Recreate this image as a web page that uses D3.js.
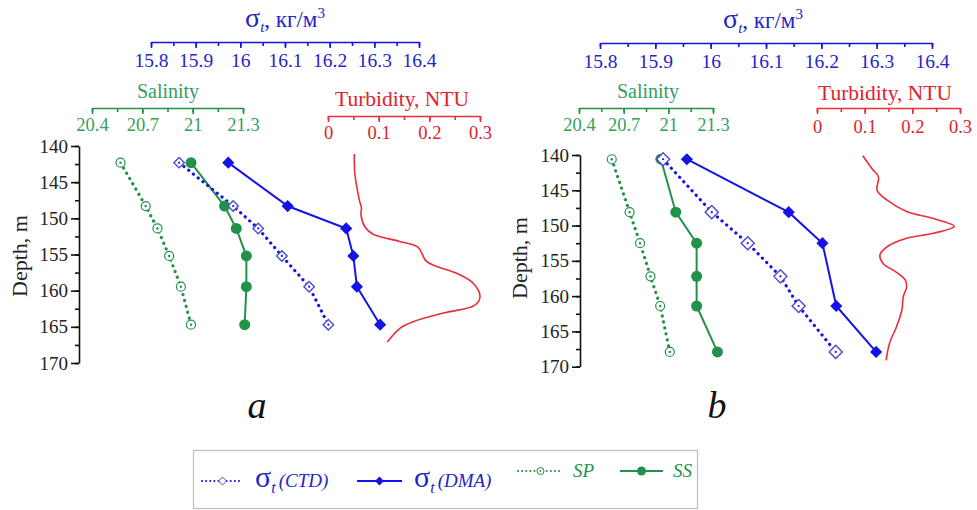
<!DOCTYPE html>
<html>
<head>
<meta charset="utf-8">
<script src="https://cdn.jsdelivr.net/npm/d3@7"></script>
<style>
  body { margin: 0; background: #fff; }
  svg text { font-family: "Liberation Serif", "Times New Roman", serif; }
</style>
</head>
<body>
<svg width="977" height="510"></svg>
<script>
// tick labels
var sigmaTicks = [15.8, 15.9, 16, 16.1, 16.2, 16.3, 16.4];
var salTicks = [20.4, 20.7, 21, 21.3];
var turbTicks = [0, 0.1, 0.2, 0.3];
var depthTicks = [140, 145, 150, 155, 160, 165, 170];

// panel a
var depthA = [142.3, 148.3, 151.4, 155.2, 159.45, 164.7];
var spA = [20.57, 20.72, 20.79, 20.86, 20.93, 20.99];
var ssA = [20.99, 21.19, 21.26, 21.32, 21.32, 21.31];
var ctdA = [15.863, 15.984, 16.04, 16.093, 16.154, 16.197];
var dmaA = [15.973, 16.106, 16.237, 16.253, 16.261, 16.313];
var turbDepthA = [141.1, 143.8, 147.5, 148.6, 149.5, 151.2, 152.2, 153.2, 154.0, 156.0, 157.6, 159.0, 160.8, 162.0, 163.1, 164.3, 165.2, 167.1];
var turbA = [0.052, 0.053, 0.062, 0.066, 0.065, 0.073, 0.089, 0.142, 0.178, 0.195, 0.254, 0.287, 0.300, 0.290, 0.228, 0.168, 0.142, 0.117];

// panel b
var depthB = [140.6, 148.1, 152.5, 157.2, 161.4, 167.9];
var spB = [20.62, 20.74, 20.81, 20.88, 20.945, 21.01];
var ssB = [20.95, 21.05, 21.19, 21.19, 21.19, 21.33];
var ctdB = [15.914, 16.002, 16.067, 16.126, 16.159, 16.226];
var dmaDepthB = [140.6, 148.1, 152.5, 161.4, 167.9];
var dmaB = [15.957, 16.141, 16.202, 16.227, 16.299];
var turbDepthB = [140.1, 141.9, 143.1, 145.0, 146.4, 148.0, 149.0, 150.1, 151.1, 151.8, 153.0, 154.2, 155.4, 156.5, 157.7, 158.7, 160.1, 162.0, 164.3, 166.7, 169.1];
var turbB = [0.096, 0.115, 0.129, 0.126, 0.147, 0.188, 0.244, 0.288, 0.244, 0.188, 0.147, 0.132, 0.139, 0.164, 0.185, 0.188, 0.181, 0.178, 0.167, 0.152, 0.145];

var BLUE = "#1414e6", BLUE_T = "#2525c8", CTD_M = "#4a4ad8";
var GREEN = "#22924a", GREEN_T = "#36a05a";
var RED = "#e8303a", RED_T = "#e0222c";

var svg = d3.select("svg");

function hAxis(g, scale, yPos, major, minorStep, color, textColor, fs, pad) {
  var d = scale.domain();
  var minor = d3.range(d[0], d[1] + minorStep / 2, minorStep);
  var gm = g.append("g").attr("transform", "translate(0," + yPos + ")")
    .call(d3.axisBottom(scale).tickValues(minor).tickSize(4).tickSizeOuter(0).tickFormat(""));
  gm.select(".domain").remove();
  var ga = g.append("g").attr("transform", "translate(0," + yPos + ")")
    .call(d3.axisBottom(scale).tickValues(major).tickSize(6).tickSizeOuter(0).tickPadding(pad)
      .tickFormat(function(v) { return String(v); }));
  g.selectAll("path, line").attr("stroke", color).attr("stroke-width", 1.6);
  ga.selectAll("text").attr("fill", textColor).style("font-size", fs + "px");
  ga.attr("font-family", null);
  gm.attr("font-family", null);
}

function drawPanel(c) {
  var g = svg.append("g");
  var y = d3.scaleLinear().domain([140, 170]).range(c.yr);
  var xs = d3.scaleLinear().domain([15.8, 16.4]).range(c.sig);
  var xl = d3.scaleLinear().domain([20.4, 21.3]).range(c.sal);
  var xt = d3.scaleLinear().domain([0, 0.3]).range(c.tur);

  // depth axis
  var gyMinor = g.append("g").attr("transform", "translate(" + c.ax + ",0)")
    .call(d3.axisLeft(y).tickValues(d3.range(140, 170.1, 2.5)).tickSize(4).tickSizeOuter(0).tickFormat(""));
  gyMinor.select(".domain").remove();
  var gy = g.append("g").attr("transform", "translate(" + c.ax + ",0)")
    .call(d3.axisLeft(y).tickValues(depthTicks).tickSize(8).tickSizeOuter(0).tickPadding(3));
  g.selectAll("path, line").attr("stroke", "#111").attr("stroke-width", 1.6);
  gy.selectAll("text").attr("fill", "#222").style("font-size", "19px");
  gy.attr("font-family", null); gyMinor.attr("font-family", null);

  g.append("text")
    .attr("transform", "translate(" + c.dl[0] + "," + c.dl[1] + ") rotate(-90)")
    .attr("text-anchor", "middle").attr("dy", "0.35em")
    .style("font-size", "22px").attr("fill", "#222").text("Depth, m");

  // top axes
  hAxis(g.append("g"), xs, c.sigY, sigmaTicks, 0.05, BLUE, BLUE_T, 19.5, 5);
  hAxis(g.append("g"), xl, c.salY, salTicks, 0.15, GREEN, GREEN_T, 18.5, 4);
  hAxis(g.append("g"), xt, c.turY, turbTicks, 0.05, RED, RED_T, 18.5, c.turPad);

  var st = g.append("text").attr("x", c.sigT[0]).attr("y", c.sigT[1])
    .attr("text-anchor", "middle").attr("fill", BLUE_T).style("font-size", "23px");
  st.append("tspan").style("font-size", "28px").text("σ");
  st.append("tspan").attr("dy", 5).style("font-style", "italic").style("font-size", "15px").text("t");
  st.append("tspan").attr("dy", -5).text(", кг/м");
  st.append("tspan").attr("dy", -9).style("font-size", "15px").text("3");

  g.append("text").attr("x", c.salT[0]).attr("y", c.salT[1]).attr("text-anchor", "middle")
    .attr("fill", GREEN_T).style("font-size", "20px").text("Salinity");
  g.append("text").attr("x", c.turT[0]).attr("y", c.turT[1]).attr("text-anchor", "middle")
    .attr("fill", RED_T).style("font-size", "21.5px").text("Turbidity, NTU");

  // turbidity curve
  g.append("path")
    .datum(d3.zip(c.turb, c.turbD))
    .attr("fill", "none").attr("stroke", RED).attr("stroke-width", 1.6)
    .attr("d", d3.line().x(function(d) { return xt(d[0]); }).y(function(d) { return y(d[1]); })
      .curve(d3.curveCatmullRom));

  var lineFn = function(sx) {
    return d3.line().x(function(d) { return sx(d[0]); }).y(function(d) { return y(d[1]); });
  };

  // SP dotted
  var sp = d3.zip(c.sp, c.depth);
  g.append("path").datum(sp).attr("fill", "none").attr("stroke", GREEN).attr("stroke-width", 3.2)
    .attr("stroke-dasharray", "0.1,6").attr("stroke-linecap", "round").attr("d", lineFn(xl));
  // SS solid
  var ss = d3.zip(c.ss, c.depth);
  g.append("path").datum(ss).attr("fill", "none").attr("stroke", GREEN).attr("stroke-width", 2)
    .attr("d", lineFn(xl));
  // CTD dotted
  var ctd = d3.zip(c.ctd, c.depth);
  g.append("path").datum(ctd).attr("fill", "none").attr("stroke", BLUE).attr("stroke-width", 3.2)
    .attr("stroke-dasharray", "0.1,6").attr("stroke-linecap", "round").attr("d", lineFn(xs));
  // DMA solid
  var dma = d3.zip(c.dma, c.dmaD);
  g.append("path").datum(dma).attr("fill", "none").attr("stroke", BLUE).attr("stroke-width", 2)
    .attr("d", lineFn(xs));

  // markers
  g.selectAll(".spm").data(sp).enter().append("circle")
    .attr("cx", function(d) { return xl(d[0]); }).attr("cy", function(d) { return y(d[1]); })
    .attr("r", 4.5).attr("fill", "#fff").attr("stroke", GREEN).attr("stroke-width", 1.2);
  g.selectAll(".spd").data(sp).enter().append("circle")
    .attr("cx", function(d) { return xl(d[0]); }).attr("cy", function(d) { return y(d[1]); })
    .attr("r", 1.2).attr("fill", GREEN);
  g.selectAll(".ssm").data(ss).enter().append("circle")
    .attr("cx", function(d) { return xl(d[0]); }).attr("cy", function(d) { return y(d[1]); })
    .attr("r", 5.5).attr("fill", GREEN);
  var dia = d3.symbol().type(d3.symbolDiamond2);
  g.selectAll(".ctdm").data(ctd).enter().append("path")
    .attr("transform", function(d) { return "translate(" + xs(d[0]) + "," + y(d[1]) + ")"; })
    .attr("d", dia.size(c.ctdSize)()).attr("fill", "#fff").attr("stroke", CTD_M).attr("stroke-width", 1.4);
  g.selectAll(".ctdd").data(ctd).enter().append("circle")
    .attr("cx", function(d) { return xs(d[0]); }).attr("cy", function(d) { return y(d[1]); })
    .attr("r", 1.1).attr("fill", BLUE);
  g.selectAll(".dmam").data(dma).enter().append("path")
    .attr("transform", function(d) { return "translate(" + xs(d[0]) + "," + y(d[1]) + ")"; })
    .attr("d", dia.size(95)()).attr("fill", BLUE);

  g.append("text").attr("x", c.letter[0]).attr("y", c.letter[1]).attr("text-anchor", "middle")
    .style("font-size", "38px").style("font-style", "italic").attr("fill", "#111").text(c.name);
}

drawPanel({
  name: "a", letter: [257, 418], ctdSize: 70,
  yr: [146, 363], ax: 79, dl: [19, 256],
  sig: [151, 419], sigY: 42, sigT: [285, 27],
  sal: [92, 243], salY: 108, salT: [168, 98],
  tur: [328, 480], turY: 116, turT: [402, 106], turPad: 4,
  depth: depthA, sp: spA, ss: ssA, ctd: ctdA, dma: dmaA, dmaD: depthA,
  turb: turbA, turbD: turbDepthA
});

drawPanel({
  name: "b", letter: [717, 418], ctdSize: 110,
  yr: [155, 366.7], ax: 580, dl: [519, 258],
  sig: [600, 932], sigY: 43, sigT: [763, 28],
  sal: [579, 713], salY: 108, salT: [648, 98],
  tur: [817, 960], turY: 108, turT: [885, 100], turPad: 6,
  depth: depthB, sp: spB, ss: ssB, ctd: ctdB, dma: dmaB, dmaD: dmaDepthB,
  turb: turbB, turbD: turbDepthB
});

// legend
var leg = svg.append("g");
leg.append("rect").attr("x", 193.5).attr("y", 450.5).attr("width", 504).attr("height", 58)
  .attr("fill", "#fff").attr("stroke", "#bdbdbd").attr("stroke-width", 1.2);

var legItems = [
  { x0: 202, x1: 243, y: 481, color: BLUE, dotted: true, mark: "odiamond", label: "CTD", sigma: true },
  { x0: 357, x1: 402, y: 481, color: BLUE, dotted: false, mark: "fdiamond", label: "DMA", sigma: true },
  { x0: 518, x1: 563, y: 471, color: GREEN, dotted: true, mark: "ocircle", label: "SP", sigma: false },
  { x0: 620, x1: 663, y: 471, color: GREEN, dotted: false, mark: "fcircle", label: "SS", sigma: false }
];
legItems.forEach(function(it) {
  leg.append("line").attr("x1", it.x0).attr("x2", it.x1).attr("y1", it.y).attr("y2", it.y)
    .attr("stroke", it.color).attr("stroke-width", 2)
    .attr("stroke-dasharray", it.dotted ? "0.1,4" : null).attr("stroke-linecap", it.dotted ? "round" : "butt");
  var cx = (it.x0 + it.x1) / 2;
  if (it.mark === "odiamond") {
    leg.append("path").attr("transform", "translate(" + cx + "," + it.y + ")")
      .attr("d", d3.symbol().type(d3.symbolDiamond2).size(40)()).attr("fill", "#fff").attr("stroke", CTD_M);
  } else if (it.mark === "fdiamond") {
    leg.append("path").attr("transform", "translate(" + cx + "," + it.y + ")")
      .attr("d", d3.symbol().type(d3.symbolDiamond2).size(50)()).attr("fill", BLUE);
  } else if (it.mark === "ocircle") {
    leg.append("circle").attr("cx", cx).attr("cy", it.y).attr("r", 3.5).attr("fill", "#fff").attr("stroke", GREEN);
    leg.append("circle").attr("cx", cx).attr("cy", it.y).attr("r", 0.9).attr("fill", GREEN);
  } else {
    leg.append("circle").attr("cx", cx).attr("cy", it.y).attr("r", 4.5).attr("fill", GREEN);
  }
  var t = leg.append("text").attr("x", it.x1 + (it.sigma ? 12 : 10)).attr("y", it.y + 6)
    .attr("fill", it.sigma ? BLUE_T : GREEN);
  if (it.sigma) {
    t.append("tspan").style("font-size", "30px").text("σ");
    t.append("tspan").attr("dy", 6).style("font-size", "16px").style("font-style", "italic").text("t");
    t.append("tspan").attr("dy", -6).attr("dx", 3).style("font-size", "19px").style("font-style", "italic").text("(" + it.label + ")");
  } else {
    t.style("font-size", "19px").style("font-style", "italic").text(it.label);
  }
});
</script>
</body>
</html>
